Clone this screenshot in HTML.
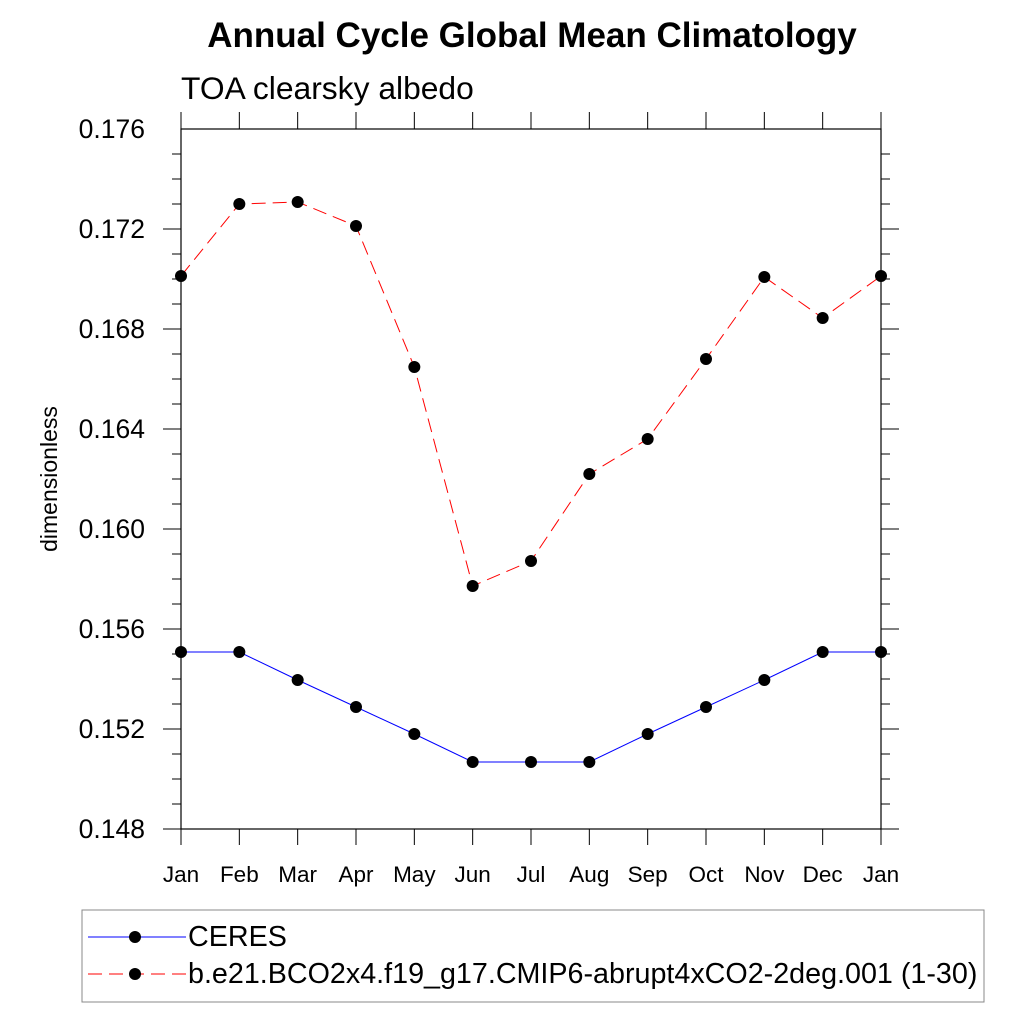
<!DOCTYPE html>
<html><head><meta charset="utf-8"><style>
body{margin:0;background:#fff;}
svg{display:block;font-family:"Liberation Sans",sans-serif;}
</style></head><body>
<svg id="chart" width="1024" height="1024" viewBox="0 0 1024 1024">
<text x="532" y="47" text-anchor="middle" font-size="35" font-weight="bold">Annual Cycle Global Mean Climatology</text>
<text x="181" y="99" font-size="31.8">TOA clearsky albedo</text>
<text transform="translate(57,479) rotate(-90)" text-anchor="middle" font-size="23">dimensionless</text>
<g id="axes"></g>
<g id="series"></g>
<rect x="82" y="910" width="902" height="92" fill="none" stroke="#888" stroke-width="1"/>
<g>
<line x1="88" y1="937" x2="186" y2="937" stroke="#0000ff" stroke-width="1"/>
<circle cx="135" cy="937" r="6" fill="#000"/>
<text x="188" y="946" font-size="28.7">CERES</text>
</g>
<g>
<line x1="88" y1="974" x2="186" y2="974" stroke="#ff0000" stroke-width="1" stroke-dasharray="14,7"/>
<circle cx="135" cy="974" r="6" fill="#000"/>
<text x="188" y="983" font-size="28.7">b.e21.BCO2x4.f19_g17.CMIP6-abrupt4xCO2-2deg.001 (1-30)</text>
</g>
</svg>
<script>
const months = ["Jan","Feb","Mar","Apr","May","Jun","Jul","Aug","Sep","Oct","Nov","Dec","Jan"];
const ceresValues = [0.15508,0.15508,0.15396,0.15288,0.1518,0.15068,0.15068,0.15068,0.1518,0.15288,0.15396,0.15508,0.15508];
const modelValues = [0.17012,0.173,0.17308,0.17212,0.16648,0.15772,0.15872,0.1622,0.1636,0.1668,0.17008,0.16844,0.17012];
const yTickLabels = ["0.148","0.152","0.156","0.160","0.164","0.168","0.172","0.176"];
const yMin = 0.148, yMax = 0.176;
const L=181,R=881,T=129,B=829;
const ns="http://www.w3.org/2000/svg";
function xs(i){return L+(R-L)*i/(months.length-1);}
function ys(v){return B-(B-T)*(v-yMin)/(yMax-yMin);}
function mk(tag,attrs,parent){const e=document.createElementNS(ns,tag);for(const k in attrs)e.setAttribute(k,attrs[k]);parent.appendChild(e);return e;}
const ax=document.getElementById('axes');
const frame=mk('rect',{x:L,y:T,width:R-L,height:B-T,fill:'none',stroke:'#000','stroke-width':1.2},ax);


const nMinor=(yMax-yMin)/0.001;
for(let j=0;j<=nMinor;j++){
  const y=B-(B-T)*j/nMinor; const major=j%4===0; const len=major?18:9;
  mk('line',{x1:L-len,y1:y,x2:L,y2:y,stroke:'#000','stroke-width':1},ax);
  mk('line',{x1:R,y1:y,x2:R+len,y2:y,stroke:'#000','stroke-width':1},ax);
}
yTickLabels.forEach(t=>{
  const v=parseFloat(t);
  const tx=mk('text',{x:L-36,y:ys(v)+9,'text-anchor':'end','font-size':26.5},ax);
  tx.textContent=t;
  
  
});
months.forEach((m,i)=>{
  const x=xs(i);
  mk('line',{x1:x,y1:B,x2:x,y2:B+16,stroke:'#000','stroke-width':1},ax);
  mk('line',{x1:x,y1:T-17,x2:x,y2:T,stroke:'#000','stroke-width':1},ax);
  const tx=mk('text',{x:x,y:882,'text-anchor':'middle','font-size':22.5},ax);
  tx.textContent=m;
  
  
});
const sg=document.getElementById('series');
function draw(vals,color,dash,name){
  const pts=vals.map((v,i)=>xs(i)+','+ys(v)).join(' ');
  const pl=mk('polyline',{points:pts,fill:'none',stroke:color,'stroke-width':1,'stroke-dasharray':dash},sg);
  
  
  vals.forEach((v,i)=>{
    const c=mk('circle',{cx:xs(i),cy:ys(v),r:6,fill:'#000'},sg);
    
    
  });
}
draw(ceresValues,'#0000ff','none','ceres');
draw(modelValues,'#ff0000','14,7','model');
</script>
</body></html>
